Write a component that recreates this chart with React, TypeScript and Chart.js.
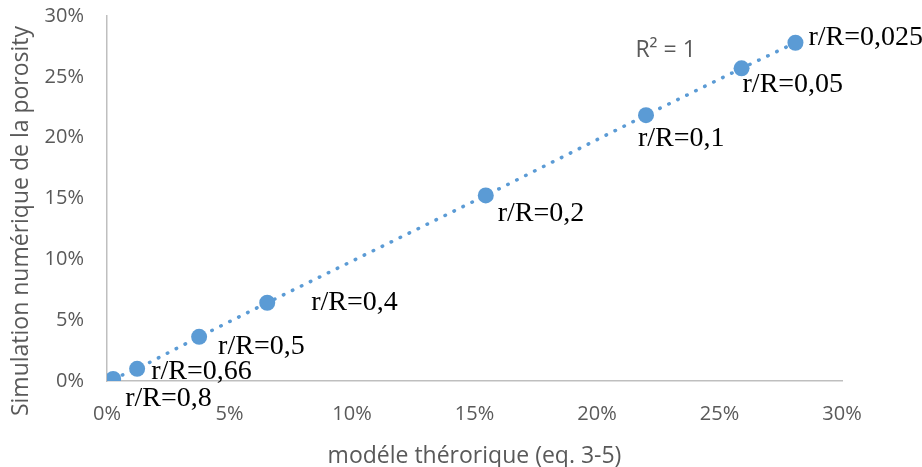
import React, { useEffect, useRef } from "react";
import { Chart, registerables } from "chart.js";

Chart.register(...registerables);

// Data (percent)
const pointLabels = ["r/R=0,8", "r/R=0,66", "r/R=0,5", "r/R=0,4", "r/R=0,2", "r/R=0,1", "r/R=0,05", "r/R=0,025"];
const modelValues = [0.25, 1.23, 3.76, 6.54, 15.46, 22.0, 25.9, 28.1];
const simValues = [0.17, 1.0, 3.63, 6.43, 15.25, 21.85, 25.7, 27.8];
const tickValues = [0, 5, 10, 15, 20, 25, 30];
const xTitle = "modéle thérorique (eq. 3-5)";
const yTitle = "Simulation numérique de la porosity";
const r2Text = "R² = 1";

// label placement offsets (px from point centre to label left/middle)
const labelOffsets: [number, number][] = [
  [12, 20], [14, 3], [19, 10], [44, 0], [12, 18], [-8, 23], [1, 16], [13, -5],
];

const BLUE = "#5B9BD5";
const GREY_TEXT = "#595959";
const AXIS = "#BFBFBF";
const SANS = "'Open Sans', sans-serif";
const SERIF = "'Liberation Serif', 'Times New Roman', serif";

const annotations = {
  id: "annotations",
  afterDatasetsDraw(chart: any) {
    const ctx = chart.ctx;
    const meta = chart.getDatasetMeta(0);
    ctx.save();
    ctx.fillStyle = "#000";
    ctx.font = `28px ${SERIF}`;
    ctx.textAlign = "left";
    ctx.textBaseline = "middle";
    meta.data.forEach((el: any, i: number) => {
      const [dx, dy] = labelOffsets[i];
      ctx.fillText(pointLabels[i], el.x + dx, el.y + dy);
    });
    // R² text
    const xs = chart.scales.x;
    const ys = chart.scales.y;
    ctx.fillStyle = GREY_TEXT;
    ctx.font = `23px ${SANS}`;
    ctx.textAlign = "center";
    ctx.fillText(r2Text, xs.getPixelForValue(22.8), ys.getPixelForValue(27.2));
    // axis titles
    const ca = chart.chartArea;
    ctx.font = `23px ${SANS}`;
    ctx.textBaseline = "alphabetic";
    ctx.fillText(xTitle, (ca.left + ca.right) / 2, 463);
    ctx.translate(28, 221);
    ctx.rotate(-Math.PI / 2);
    ctx.fillText(yTitle, 0, 0);
    ctx.restore();
  },
};

export default function App() {
  const ref = useRef<HTMLCanvasElement>(null);
  useEffect(() => {
    const points = modelValues.map((x, i) => ({ x, y: simValues[i] }));
    const chart = new Chart(ref.current!, {
      type: "scatter",
      data: {
        datasets: [
          {
            data: points,
            showLine: true,
            borderColor: BLUE,
            borderWidth: 3.5,
            borderDash: [0.5, 9.5],
            borderCapStyle: "round",
            backgroundColor: BLUE,
            pointBackgroundColor: BLUE,
            pointBorderWidth: 0,
            pointRadius: 8,
          } as any,
        ],
      },
      options: {
        animation: false,
        responsive: true,
        maintainAspectRatio: false,
        layout: { padding: { top: 16, right: 80, left: 0, bottom: 0 } },
        plugins: { legend: { display: false }, tooltip: { enabled: false } },
        scales: {
          x: {
            type: "linear",
            min: 0,
            max: 30,
            afterFit: (s: any) => { s.height = 86; },
            afterBuildTicks: (s: any) => { s.ticks = tickValues.map((v) => ({ value: v })); },
            grid: { display: false, drawTicks: true, tickLength: 21 },
            border: { display: true, color: AXIS, width: 1.5 },
            ticks: {
              padding: 0,
              color: GREY_TEXT,
              font: { family: SANS, size: 20 },
              callback: (v: any) => v + "%",
            },
          },
          y: {
            type: "linear",
            min: 0,
            max: 30,
            afterFit: (s: any) => { s.width = 107; },
            afterBuildTicks: (s: any) => { s.ticks = tickValues.map((v) => ({ value: v })); },
            grid: { display: false, drawTicks: true, tickLength: 23 },
            border: { display: true, color: AXIS, width: 1.5 },
            ticks: {
              padding: 0,
              color: GREY_TEXT,
              font: { family: SANS, size: 20 },
              callback: (v: any) => v + "%",
            },
          },
        },
      },
      plugins: [annotations],
    });
    return () => chart.destroy();
  }, []);
  return (
    <div style={{ position: "fixed", left: 0, top: 0, width: 922, height: 467, background: "#fff" }}>
      <canvas ref={ref} />
    </div>
  );
}
